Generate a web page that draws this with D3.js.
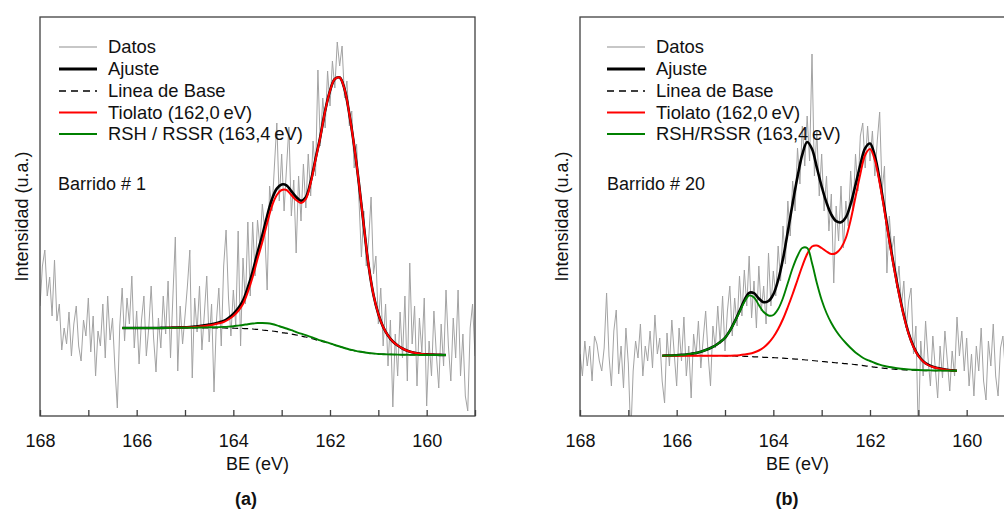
<!DOCTYPE html>
<html><head><meta charset="utf-8">
<script src="https://cdn.jsdelivr.net/npm/d3@7"></script>
<style>
body{margin:0;background:#fff;}
svg{display:block;font-family:"Liberation Sans",Arial,Helvetica,sans-serif;}
</style></head><body>
<svg id="chart" width="1004" height="509"></svg>
<script>
// ---- energy grids (BE, eV) ----
const dataStartBE = 168.0, dataStepBE = 0.05;   // measured points
const fitStartBE = 166.3, fitStepBE = 0.1;      // fitted curves
const xTicks = [168,167,166,165,164,163,162,161,160,159];
const xTickLabels = ["168","","166","","164","","162","","160",""];
const legendLabelsA = ["Datos","Ajuste","Linea de Base","Tiolato (162,0\u2009eV)","RSH / RSSR (163,4\u2009eV)"];
const legendLabelsB = ["Datos","Ajuste","Linea de Base","Tiolato (162,0\u2009eV)","RSH/RSSR (163,4\u2009eV)"];

// ---- panel (a): Barrido # 1 ----
const dataA = [110,150,166,120,139,100,156,95,112,66,
88,72,104,60,92,110,70,55,96,80,
118,64,100,40,85,70,112,58,120,76,
98,48,8,90,128,75,118,92,140,68,
105,52,96,120,60,88,130,78,44,98,
68,120,82,135,58,120,179,45,110,72,
100,130,166,38,118,84,130,66,102,140,
74,112,24,95,128,70,150,186,118,80,
126,90,185,70,158,112,194,120,194,140,
196,170,212,185,126,230,205,250,293,215,
262,205,248,289,200,236,163,240,195,252,
208,262,220,275,240,346,270,318,288,345,
310,355,328,374,350,370,318,335,290,305,
248,272,215,159,205,150,176,219,142,160,
92,128,70,112,50,96,9,82,40,104,
58,120,35,153,72,110,30,98,64,118,
10,75,40,105,62,28,92,50,126,70,
35,98,58,126,40,82,20,5,88,112,60];
const baseA = [88,88,88,88,88,88,88,88,88,88,88,88,88,88,88,88,88,88,88,88,88,88,87.9,87.8,87.7,87.5,87.3,87,86.6,86,85.5,85,84.3,83.5,82.8,82,81,80,79,77.7,76.4,75,73.8,72.5,71,69.5,68,66.5,65.5,64.5,63.7,63,62.5,62,61.8,61.6,61.5,61.4,61.3,61.2,61.1,61.1,61,61,61,61,61,61];
const rshA = [88,88,88,88,88,88,88,88,88,88,88.1,88.1,88.2,88.2,88.3,88.4,88.5,88.6,88.7,88.8,88.9,89.1,89.4,89.8,90.4,91,91.8,92.5,93,93,92.7,92,90.7,89,87.5,85.8,84,82.3,80.8,79.1,77.4,75.6,74.2,72.7,71,69.5,68,66.5,65.5,64.5,63.7,63,62.5,62,61.8,61.6,61.5,61.4,61.3,61.2,61.1,61.1,61,61,61,61,61,61];
const tioA = [88,88,88,88,88,88,88,88,88,88.1,88.2,88.3,88.4,88.5,88.7,89,89.5,90,90.7,91.5,92.7,94,96.5,100,105,112,124,139,157,174,193,210,221,226,226,221,216,213,217,233,256,279,305,325,337,338.5,327,302,270,232,190,150,121,102,89,80.5,74.5,70.5,67.5,65.3,63.8,62.7,62,61.6,61.4,61.2,61.1,61];
const fitA = [88,88,88,88,88,88,88,88,88.1,88.2,88.3,88.4,88.6,88.7,89,89.4,90,90.6,91.4,92.3,93.6,95.1,98,102,107.7,115.5,128.5,144.5,163.4,181,200.2,217,227.4,231.5,230.7,224.8,219,215.3,218.8,234.4,257,279.6,305.4,325.2,337,338.5,327,302,270,232,190,150,121,102,89,80.5,74.5,70.5,67.5,65.3,63.8,62.7,62,61.6,61.4,61.2,61.1,61];

// ---- panel (b): Barrido # 20 ----
const dataB = [62,40,75,50,70,35,80,72,55,45,
68,123,60,30,85,106,42,70,28,88,
52,-20,45,75,58,92,40,70,55,85,
48,101,62,78,35,13,83,50,96,62,
30,88,55,99,40,70,18,82,60,95,
48,78,105,62,30,90,68,110,72,120,
65,105,130,80,118,90,140,100,146,110,
160,98,135,88,150,105,130,92,163,110,
145,120,170,135,190,152,215,180,235,205,
268,232,290,250,300,255,362,240,285,220,
262,205,240,185,222,133,210,175,230,168,
215,190,245,205,262,225,280,293,248,290,
255,285,240,275,304,225,250,143,200,165,
180,128,150,110,135,88,115,128,62,90,
-20,75,40,95,58,30,80,48,18,70,
38,85,55,25,65,40,99,60,85,45,
78,30,62,20,70,45,88,35,16,75,
50,92,40,20,68,80,45,90,55,70,40];
const baseB = [60.3,60.3,60.3,60.3,60.3,60.3,60.3,60.3,60.3,60.3,60.3,60.3,60.3,60.2,60.1,60,59.9,59.7,59.5,59.2,59,58.7,58.5,58.3,58.1,57.8,57.5,57.2,56.8,56.4,56,55.5,55,54.5,54.1,53.6,53.2,52.8,52.4,51.9,51.4,50.8,50.2,49.5,48.9,48.2,47.7,47.2,46.8,46.4,46.2,45.9,45.8,45.6,45.5,45.4,45.4,45.3,45.3,45.3,45.3,45.3];
const rshB = [60.3,60.4,60.5,60.8,61.1,61.5,62.2,63,64.3,66,68,70.5,74,78,85,94,104,114,120.5,118.5,111,104,100.5,101,107,118,133,148,160,168,168,153,133,116,103,93,85,78.5,73,68,63.5,60,57,55,53,51.3,50,49,48.2,47.5,47,46.6,46.3,46,45.8,45.7,45.6,45.5,45.4,45.4,45.3,45.3];
const tioB = [60.3,60.3,60.3,60.3,60.3,60.3,60.3,60.3,60.3,60.3,60.3,60.3,60.3,60.3,60.3,60.4,60.8,61.4,62.2,63.5,65.5,68.5,73,79,87,97,109,122,136,150,162,169.5,170.5,168,164.5,162,163,168,178,196,219,242,261,267,256,233,205,175,147,122,100,82,69,60,54.5,51,49,47.7,46.8,46.1,45.6,45.3];
const fitB = [60.3,60.4,60.5,60.8,61.1,61.5,62.2,63,64.3,66,68,70.5,74,78.1,85.2,94.4,104.9,115.7,123.2,122.8,117.5,113.8,115,121.7,135.9,157.2,184.5,212.8,239.2,261.6,274,267,248.5,229.5,213.4,201.4,194.8,193.7,198.6,212.1,231.1,251.2,267.8,272.5,260.1,236.1,207.3,176.8,148.4,123.1,100.8,82.7,69.5,60.4,54.8,51.3,49.2,47.9,46.9,46.2,45.6,45.3];

// ---- layout ----
const W = 1004, H = 509;
const plotTop = 17, plotBottom = 416;
const colors = {data:"#a3a3a3", fit:"#000000", base:"#000000", tio:"#ff0000", rsh:"#008000", frame:"#404040"};
const panels = [
  {key:"a", x0:40, x1:475, data:dataA, base:baseA, rsh:rshA, tio:tioA, fit:fitA, legend:legendLabelsA,
   sweep:"Barrido # 1", legLine:[59,97], legText:108, sweepX:58, yLabelX:28, tag:"(a)", tagX:246},
  {key:"b", x0:580, x1:1015, data:dataB, base:baseB, rsh:rshB, tio:tioB, fit:fitB, legend:legendLabelsB,
   sweep:"Barrido # 20", legLine:[607,645], legText:656, sweepX:607, yLabelX:568, tag:"(b)", tagX:787}
];
const legendRows = [47, 69, 91, 112.5, 134];

const svg = d3.select("#chart");
const y = d3.scaleLinear().domain([0, 399]).range([plotBottom, plotTop]);

panels.forEach(p => {
  const x = d3.scaleLinear().domain([168, 159]).range([p.x0, p.x1]);
  const g = svg.append("g");

  g.append("clipPath").attr("id", "clip-" + p.key)
    .append("rect").attr("x", p.x0).attr("y", plotTop).attr("width", p.x1 - p.x0).attr("height", plotBottom - plotTop);

  const plot = g.append("g").attr("clip-path", "url(#clip-" + p.key + ")");

  const dataLine = d3.line().x((d, i) => x(dataStartBE - i * dataStepBE)).y(d => y(d));
  const fitLine = d3.line().x((d, i) => x(fitStartBE - i * fitStepBE)).y(d => y(d)).curve(d3.curveCatmullRom.alpha(0.5));

  plot.append("path").attr("d", dataLine(p.data)).attr("fill", "none")
    .attr("stroke", colors.data).attr("stroke-width", 1).attr("stroke-linejoin", "round");
  plot.append("path").attr("d", fitLine(p.base)).attr("fill", "none")
    .attr("stroke", colors.base).attr("stroke-width", 1.2).attr("stroke-dasharray", "6,4");
  plot.append("path").attr("d", fitLine(p.fit)).attr("fill", "none")
    .attr("stroke", colors.fit).attr("stroke-width", 2.6);
  plot.append("path").attr("d", fitLine(p.tio)).attr("fill", "none")
    .attr("stroke", colors.tio).attr("stroke-width", 2);
  plot.append("path").attr("d", fitLine(p.rsh)).attr("fill", "none")
    .attr("stroke", colors.rsh).attr("stroke-width", 1.9);

  // frame
  g.append("rect").attr("x", p.x0).attr("y", plotTop).attr("width", p.x1 - p.x0).attr("height", plotBottom - plotTop)
    .attr("fill", "none").attr("stroke", colors.frame).attr("stroke-width", 1.3);

  // bottom axis with inward ticks
  const axis = d3.axisBottom(x).tickValues(xTicks).tickSizeInner(-6).tickSizeOuter(0).tickPadding(18)
    .tickFormat((d, i) => xTickLabels[i]);
  const ag = g.append("g").attr("transform", "translate(0," + plotBottom + ")").call(axis);
  ag.select(".domain").remove();
  ag.selectAll(".tick line").attr("stroke", colors.frame).attr("stroke-width", 1.3);
  ag.selectAll(".tick text").attr("fill", "#111").style("font-size", "18px")
    .style("font-family", '"Liberation Sans",Arial,Helvetica,sans-serif');

  // axis titles
  g.append("text").attr("x", (p.x0 + p.x1) / 2).attr("y", 470).attr("text-anchor", "middle")
    .attr("font-size", 18).attr("fill", "#111").text("BE (eV)");
  g.append("text").attr("transform", "translate(" + p.yLabelX + "," + ((plotTop + plotBottom) / 2) + ") rotate(-90)")
    .attr("text-anchor", "middle").attr("font-size", 18).attr("fill", "#111").text("Intensidad (u.a.)");
  g.append("text").attr("x", p.tagX).attr("y", 504.5).attr("text-anchor", "middle")
    .attr("font-size", 18).attr("font-weight", "bold").attr("fill", "#111").text(p.tag);

  // legend
  const styles = [
    {stroke: "#b4b4b4", w: 1.3, dash: null},
    {stroke: colors.fit, w: 3, dash: null},
    {stroke: colors.base, w: 1.3, dash: "7,5"},
    {stroke: colors.tio, w: 1.8, dash: null},
    {stroke: colors.rsh, w: 1.8, dash: null}
  ];
  p.legend.forEach((lab, i) => {
    const yy = legendRows[i];
    const s = styles[i];
    const ln = g.append("line").attr("x1", p.legLine[0]).attr("x2", p.legLine[1]).attr("y1", yy).attr("y2", yy)
      .attr("stroke", s.stroke).attr("stroke-width", s.w);
    if (s.dash) ln.attr("stroke-dasharray", s.dash);
    g.append("text").attr("x", p.legText).attr("y", yy).attr("dy", "0.35em")
      .attr("font-size", 18.4).attr("fill", "#111").text(lab);
  });
  g.append("text").attr("x", p.sweepX).attr("y", 183.5).attr("dy", "0.35em")
    .attr("font-size", 18).attr("fill", "#111").text(p.sweep);
});
</script>
</body></html>
